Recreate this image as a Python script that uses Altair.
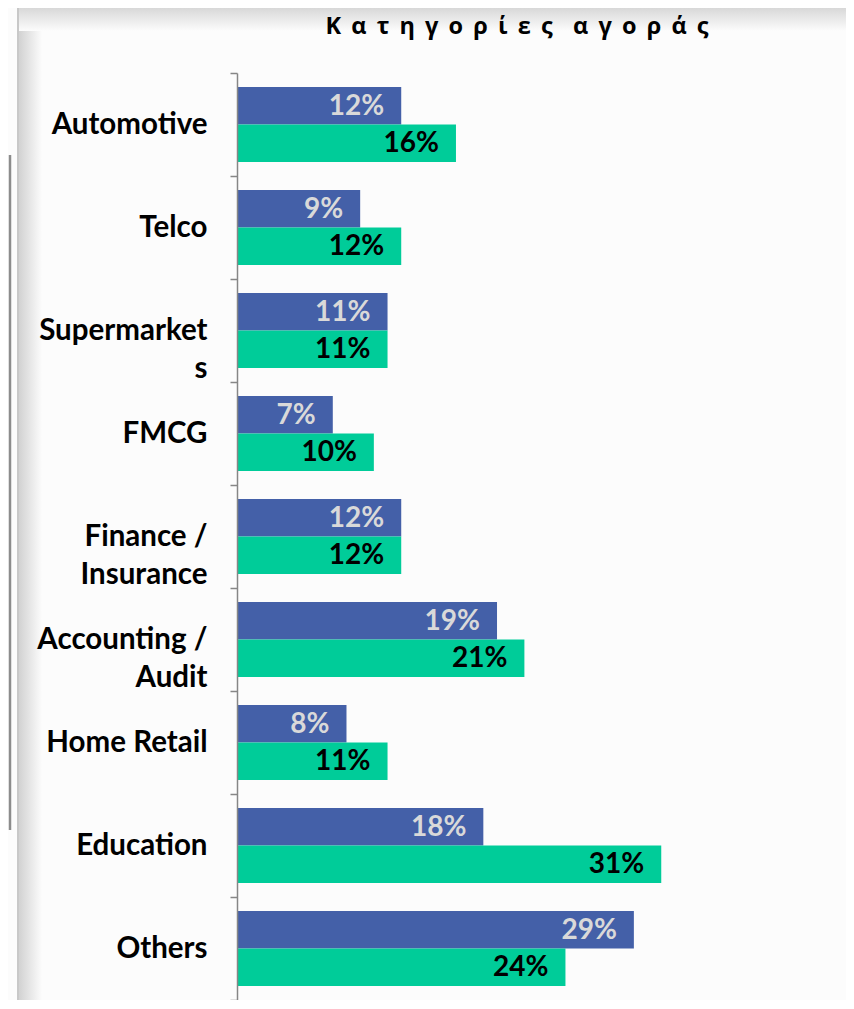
import altair as alt
import pandas as pd

categories = ["Automotive", "Telco", "Supermarket|s", "FMCG", "Finance /|Insurance",
              "Accounting /|Audit", "Home Retail", "Education", "Others"]
series_names = ["Σειρά 1", "Σειρά 2"]
values_1 = [12, 9, 11, 7, 12, 19, 8, 18, 29]
values_2 = [16, 12, 11, 10, 12, 21, 11, 31, 24]
colors = ["#4460A8", "#00CC99"]
label_colors = ["#D9D9D9", "#000000"]
title_words = ["Κατηγορίες", "αγοράς"]

rows = []
for c, a, b in zip(categories, values_1, values_2):
    rows.append({"cat": c, "series": series_names[0], "v": a, "lab": f"{a}%"})
    rows.append({"cat": c, "series": series_names[1], "v": b, "lab": f"{b}%"})
df = pd.DataFrame(rows)

# letter-spaced title (narrow spaces between letters, wider gap between words)
gap = "\u2004\u200a"
spaced_title = (gap * 2).join(gap.join(list(w)) for w in title_words)

y_enc = alt.Y("cat:N", sort=categories,
              scale=alt.Scale(paddingInner=0, paddingOuter=0),
              axis=alt.Axis(title=None, labelExpr="split(datum.label, '|')",
                            labelFont="Lato", labelFontSize=29.5, labelFontWeight="bold",
                            labelColor="#000000", labelLineHeight=38, labelPadding=23,
                            labelLimit=300, tickBand="extent", tickSize=7, tickWidth=1.5,
                            tickColor="#868686", domainColor="#868686", domainWidth=1.5,
                            grid=False, zindex=1))
x_enc = alt.X("v:Q", scale=alt.Scale(domain=[0, 44.5]), axis=None)
yoff = alt.YOffset("series:N", sort=series_names,
                   scale=alt.Scale(paddingInner=0, paddingOuter=0.3733))

base = alt.Chart(df)

bars = base.mark_bar().encode(
    y=y_enc, x=x_enc, yOffset=yoff,
    color=alt.Color("series:N", scale=alt.Scale(domain=series_names, range=colors), legend=None),
)

labels = base.mark_text(align="right", baseline="middle", dx=-17, dy=1,
                        font="Lato", fontSize=28, fontWeight="bold").encode(
    y=y_enc, x=x_enc, yOffset=yoff, text="lab:N",
    color=alt.condition(alt.datum.series == series_names[0],
                        alt.value(label_colors[0]), alt.value(label_colors[1])),
)

# frame decoration (bevel shading like the original)
deco_df = pd.DataFrame({"k": [0]})
left_edge = alt.Chart(deco_df).mark_rule(color="#c8c8c8", strokeWidth=2).encode(
    x=alt.value(-219), y=alt.value(-65), y2=alt.value(930))
left_shade = alt.Chart(deco_df).mark_rect(
    color=alt.Gradient(gradient="linear", x1=0, x2=1, y1=0, y2=0,
                       stops=[alt.GradientStop(offset=0, color="#d2d2d2"),
                              alt.GradientStop(offset=1, color="#fcfcfc")])
).encode(x=alt.value(-218), x2=alt.value(-195), y=alt.value(-63), y2=alt.value(930))
top_shade = alt.Chart(deco_df).mark_rect(
    color=alt.Gradient(gradient="linear", x1=0, x2=0, y1=0, y2=1,
                       stops=[alt.GradientStop(offset=0, color="#d8d8d8"),
                              alt.GradientStop(offset=1, color="#fcfcfc")])
).encode(x=alt.value(-218), x2=alt.value(620), y=alt.value(-65), y2=alt.value(-42))
left_line = alt.Chart(deco_df).mark_rule(color="#8c8c8c", strokeWidth=2.5).encode(
    x=alt.value(-227), y=alt.value(82), y2=alt.value(757))
title_mark = alt.Chart(deco_df).mark_text(
    text=spaced_title, font="Open Sans", fontSize=23.5, fontWeight="bold",
    color="#000000", align="center", baseline="alphabetic"
).encode(x=alt.value(280), y=alt.value(-39))

chart = alt.layer(left_shade, top_shade, left_edge, left_line, title_mark, bars, labels).properties(
    width=609, height=927,
    padding={"left": 229, "top": 65, "right": 0, "bottom": 0},
    autosize=alt.AutoSizeParams(type="none"),
    background="#FCFCFC",
).configure_view(stroke=None)

chart.save("out.html", embed_options={"renderer": "svg", "actions": False})
